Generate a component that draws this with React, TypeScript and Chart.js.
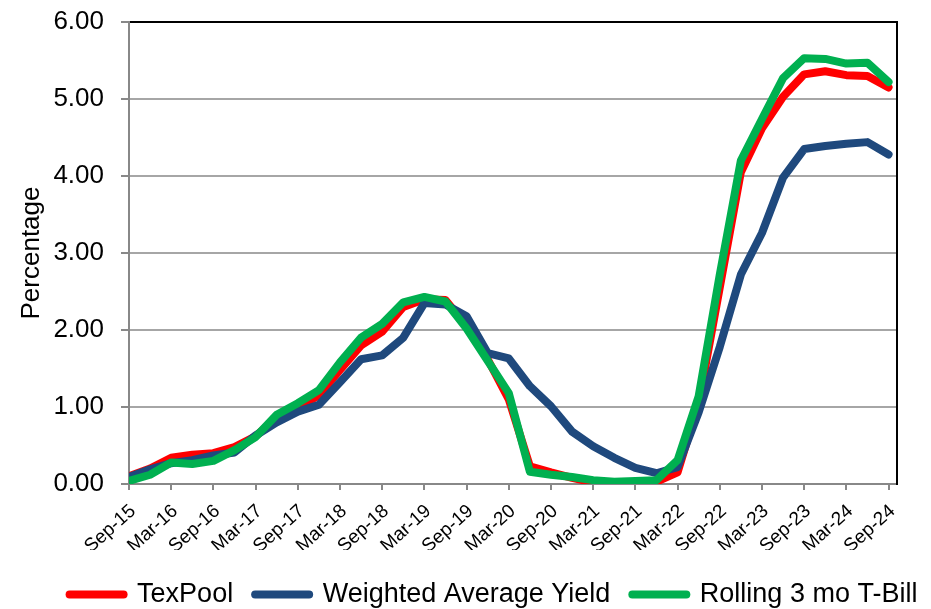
import React, { useEffect, useRef } from 'react';
import { Chart, registerables } from 'chart.js';

Chart.register(...registerables);

const quarters = [
  'Sep-15', 'Dec-15', 'Mar-16', 'Jun-16', 'Sep-16', 'Dec-16', 'Mar-17', 'Jun-17', 'Sep-17', 'Dec-17',
  'Mar-18', 'Jun-18', 'Sep-18', 'Dec-18', 'Mar-19', 'Jun-19', 'Sep-19', 'Dec-19', 'Mar-20', 'Jun-20',
  'Sep-20', 'Dec-20', 'Mar-21', 'Jun-21', 'Sep-21', 'Dec-21', 'Mar-22', 'Jun-22', 'Sep-22', 'Dec-22',
  'Mar-23', 'Jun-23', 'Sep-23', 'Dec-23', 'Mar-24', 'Jun-24', 'Sep-24',
];

const texPool = [
  0.10, 0.20, 0.34, 0.38, 0.40, 0.48, 0.62, 0.86, 1.00, 1.15,
  1.48, 1.80, 1.98, 2.30, 2.40, 2.39, 2.05, 1.62, 1.10, 0.23,
  0.15, 0.08, 0.02, 0.01, 0.02, 0.03, 0.15, 1.05, 2.55, 4.05,
  4.62, 5.03, 5.32, 5.36, 5.31, 5.30, 5.15,
];

const weightedAverageYield = [
  0.09, 0.19, 0.27, 0.31, 0.37, 0.41, 0.63, 0.80, 0.94, 1.03,
  1.32, 1.62, 1.67, 1.90, 2.35, 2.33, 2.18, 1.70, 1.63, 1.27,
  1.01, 0.68, 0.49, 0.34, 0.21, 0.14, 0.22, 0.93, 1.78, 2.72,
  3.26, 3.98, 4.35, 4.39, 4.42, 4.44, 4.28,
];

const rolling3moTBill = [
  0.04, 0.12, 0.28, 0.26, 0.30, 0.44, 0.61, 0.90, 1.05, 1.22,
  1.58, 1.90, 2.08, 2.36, 2.43, 2.37, 2.02, 1.60, 1.18, 0.16,
  0.12, 0.09, 0.05, 0.03, 0.04, 0.05, 0.31, 1.14, 2.72, 4.20,
  4.74, 5.27, 5.53, 5.52, 5.46, 5.47, 5.22,
];

const seriesNames = ['TexPool', 'Weighted Average Yield', 'Rolling 3 mo T-Bill'];
const seriesColors = ['#FF0000', '#1F497D', '#00B050'];

const FONT = "'Liberation Sans', Arial, sans-serif";

export default function App() {
  const ref = useRef<HTMLCanvasElement>(null);

  useEffect(() => {
    if (!ref.current) return;
    const shiftLegend = {
      id: 'shiftLegend',
      afterLayout(chart: any) {
        const l = chart.legend;
        if (!l) return;
        l.left += 45;
        l.right += 45;
        l.top += 9;
        l.bottom += 9;
      },
    };
    const series = [texPool, weightedAverageYield, rolling3moTBill];
    const orders = [3, 2, 1];
    const chart = new Chart(ref.current, {
      type: 'line',
      data: {
        datasets: series.map((s, k) => ({
          label: seriesNames[k],
          data: s.map((v, i) => ({ x: i, y: v })),
          borderColor: seriesColors[k],
          backgroundColor: seriesColors[k],
          borderWidth: 8,
          pointBorderWidth: 8,
          pointRadius: 0,
          pointHoverRadius: 0,
          tension: 0,
          fill: false,
          borderJoinStyle: 'round',
          borderCapStyle: 'round',
          order: orders[k],
        })),
      },
      options: {
        animation: false,
        responsive: true,
        maintainAspectRatio: false,
        layout: { padding: { top: 22, right: 34, left: 0, bottom: 0 } },
        plugins: {
          tooltip: { enabled: false },
          legend: {
            position: 'bottom',
            labels: {
              usePointStyle: true,
              pointStyle: 'line',
              pointStyleWidth: 54,
              padding: 22,
              color: '#000',
              font: { family: FONT, size: 27 },
              sort: (a: any, b: any) => a.datasetIndex - b.datasetIndex,
              generateLabels: (c: any) =>
                (Chart.defaults.plugins.legend.labels.generateLabels as any)(c).map((it: any) => ({
                  ...it,
                  lineCap: 'round',
                  lineWidth: 8,
                })),
            },
          },
        },
        scales: {
          x: {
            type: 'linear',
            min: 0,
            max: 36.4,
            afterBuildTicks: (s: any) => {
              s.ticks = quarters
                .map((_, i) => i)
                .filter((i) => i % 2 === 0)
                .map((v) => ({ value: v }));
            },
            afterFit: (s: any) => {
              s.height = 66;
            },
            ticks: {
              autoSkip: false,
              minRotation: 42,
              maxRotation: 42,
              padding: 10,
              labelOffset: 4,
              color: '#000',
              font: { family: FONT, size: 19 },
              callback: (v: any) => quarters[Math.round(Number(v))],
            },
            grid: { drawOnChartArea: false, drawTicks: true, tickLength: 6, color: '#888888', lineWidth: 2 },
            border: { color: '#888888', width: 2 },
          },
          y: {
            min: 0,
            max: 6,
            afterFit: (s: any) => {
              s.width = 129;
              s.paddingTop = 0;
              s.paddingBottom = 0;
            },
            ticks: {
              stepSize: 1,
              padding: 17,
              color: '#000',
              font: { family: FONT, size: 26 },
              callback: (v: any) => Number(v).toFixed(2),
            },
            grid: {
              color: (c: any) => (c.tick && c.tick.value === 6 ? '#000000' : '#A6A6A6'),
              lineWidth: 2,
              tickLength: 8,
              tickColor: '#888888',
            },
            border: { color: '#888888', width: 2 },
            title: {
              display: true,
              text: 'Percentage',
              color: '#000',
              font: { family: FONT, size: 26 },
              padding: { top: 16, bottom: 0 },
            },
          },
          y2: {
            position: 'right',
            min: 0,
            max: 6,
            afterFit: (s: any) => {
              s.width = 0;
              s.paddingTop = 0;
              s.paddingBottom = 0;
            },
            ticks: { display: false },
            grid: { display: false, drawTicks: false },
            border: { display: true, color: '#000000', width: 2 },
          },
        },
      },
      plugins: [shiftLegend],
    } as any);
    return () => chart.destroy();
  }, []);

  return (
    <div style={{ position: 'absolute', left: 0, top: 0, width: 931, height: 609 }}>
      <canvas ref={ref} />
    </div>
  );
}
